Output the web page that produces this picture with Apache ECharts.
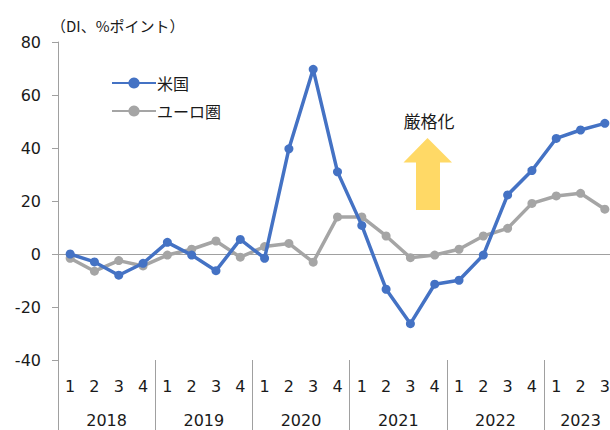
<!DOCTYPE html>
<html>
<head>
<meta charset="utf-8">
<script src="https://cdn.jsdelivr.net/npm/echarts@6/dist/echarts.min.js"></script>
<style>
html,body{margin:0;padding:0;background:#fff;overflow:hidden;}
#chart{width:617px;height:430px;}
</style>
</head>
<body>
<div id="chart"></div>
<script>
// ---- data ----
var quarterLabels = ['1','2','3','4','1','2','3','4','1','2','3','4','1','2','3','4','1','2','3','4','1','2','3'];
var years = ['2018','2019','2020','2021','2022','2023'];
var quartersPerYear = [4,4,4,4,4,3];
var usValues = [0,-3,-8,-3.5, 4.4,-0.4,-6.3,5.5, -1.6,39.7,69.7,31, 10.8,-13.3,-26.3,-11.4, -9.9,-0.4,22.3,31.5, 43.6,46.8,49.3];
var euroValues = [-1.6,-6.5,-2.5,-4.5, -0.4,1.8,4.9,-1.2, 2.8,4,-3.1,14, 14,6.8,-1.4,-0.4, 1.8,6.8,9.7,19.1, 21.9,22.9,16.9];
var seriesNames = ['米国','ユーロ圏'];
var yTicks = {min:-40, max:80, interval:20};

// year group centres / boundaries (in category units)
var yearCenters = [], yearBounds = [], start = 0;
quartersPerYear.forEach(function(n){ yearBounds.push(start); yearCenters.push(start + n/2); start += n; });

var FONT = '"Noto Sans CJK JP", "Noto Sans", sans-serif';
var NUMFONT = '"DejaVu Sans", "Noto Sans CJK JP", sans-serif';
var TXT = '#1a1a1a';
var AXIS = '#a0a0a0';

var chart = echarts.init(document.getElementById('chart'), null, {renderer:'svg'});
chart.setOption({
  animation:false,
  backgroundColor:'#fff',
  textStyle:{fontFamily:FONT},
  title:{text:'（DI、%ポイント）', left:46, top:13,
    textStyle:{fontSize:15, fontWeight:'normal', color:TXT, fontFamily:FONT}},
  legend:{orient:'vertical', left:106, top:70, itemWidth:44, itemHeight:14, itemGap:12,
    textStyle:{fontSize:16, color:TXT, fontFamily:FONT, padding:[0,0,0,-4]},
    data:seriesNames},
  grid:{left:58, right:0, top:42, bottom:70, containLabel:false},
  xAxis:[
    {type:'category', data:quarterLabels, position:'bottom', boundaryGap:true,
     axisLine:{show:false, onZero:false}, axisTick:{show:false},
     axisLabel:{fontSize:16, color:TXT, margin:18, interval:0, fontFamily:NUMFONT}},
    {type:'value', min:0, max:quarterLabels.length, position:'bottom',
     axisLine:{show:false, onZero:false}, splitLine:{show:false},
     axisTick:{show:true, customValues:yearBounds, length:72, inside:false, lineStyle:{color:AXIS, width:1}},
     axisLabel:{show:true, customValues:yearCenters, fontSize:16, color:TXT, margin:52, fontFamily:NUMFONT,
       formatter:function(v){ var i = yearCenters.indexOf(v); return i >= 0 ? years[i] : ''; }}},
    {type:'category', data:quarterLabels, position:'bottom', boundaryGap:true,
     axisLine:{show:true, onZero:true, lineStyle:{color:AXIS, width:1}},
     axisTick:{show:false}, axisLabel:{show:false}}
  ],
  yAxis:{type:'value', min:yTicks.min, max:yTicks.max, interval:yTicks.interval,
    axisLine:{show:true, lineStyle:{color:AXIS, width:1}},
    axisTick:{show:true, length:6, inside:false, lineStyle:{color:AXIS}},
    splitLine:{show:false},
    axisLabel:{fontSize:16, color:TXT, margin:17, fontFamily:NUMFONT}},
  series:[
    {name:seriesNames[0], type:'line', data:usValues, xAxisIndex:0, symbol:'circle', symbolSize:9,
     itemStyle:{color:'#4472C4'}, lineStyle:{color:'#4472C4', width:3.5}, z:3},
    {name:seriesNames[1], type:'line', data:euroValues, xAxisIndex:0, symbol:'circle', symbolSize:9,
     itemStyle:{color:'#A5A5A5'}, lineStyle:{color:'#A5A5A5', width:3.5}, z:2}
  ],
  graphic:[
    {type:'polygon', shape:{points:[[427.5,138],[403.5,162.5],[416,162.5],[416,210],[440,210],[440,162.5],[452,162.5]]},
     style:{fill:'#FFD966'}, z:1},
    {type:'text', x:429, y:120, style:{text:'厳格化', fontSize:17, fill:TXT, fontFamily:FONT, align:'center', verticalAlign:'middle'}}
  ]
});
</script>
</body>
</html>
